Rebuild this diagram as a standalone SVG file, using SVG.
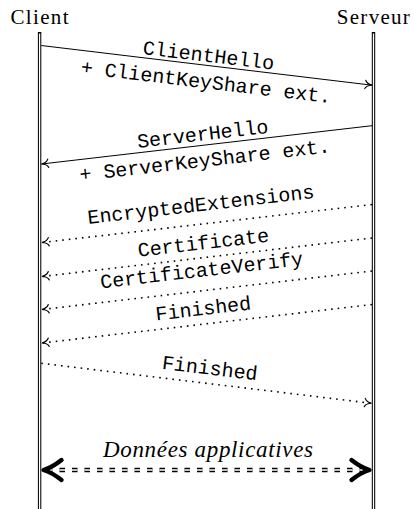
<svg xmlns="http://www.w3.org/2000/svg" width="414" height="509" viewBox="0 0 414 509">
  <style>
    .actor { font-family: "Liberation Serif", "Times New Roman", serif; font-size: 21px; fill: #000; text-anchor: middle; }
    .life-outer { stroke: #000; stroke-width: 3.4; fill: none; }
    .life-inner { stroke: #fff; stroke-width: 1.3; fill: none; }
    .msg { stroke: #000; stroke-width: 1; fill: none; }
    .dot { stroke: #000; stroke-width: 1.6; fill: none; stroke-dasharray: 1.6 5; }
    .lbl { font-family: "Liberation Mono", "Courier New", monospace; font-size: 20px; fill: #000; text-anchor: middle; }
    .data-lbl { font-family: "Liberation Serif", "Times New Roman", serif; font-style: italic; font-size: 23px; fill: #000; text-anchor: middle; }
    .data-outer { stroke: #000; stroke-width: 4.4; fill: none; stroke-dasharray: 5.5 7; }
    .data-inner { stroke: #fff; stroke-width: 1.6; fill: none; stroke-dasharray: 5.5 7; }
    .fat-tip { stroke: #000; stroke-width: 4.4; fill: none; stroke-linecap: round; stroke-linejoin: round; }
  </style>
  <defs>
    <!-- open curved arrow tip shared by all thin messages -->
    <marker id="tip" viewBox="-9 -6 11 12" markerWidth="11" markerHeight="12" refX="0" refY="0" orient="auto" markerUnits="userSpaceOnUse">
      <path d="M -6.8 -4.2 C -5.8 -1.9 -3 -0.4 0 0 C -3 0.4 -5.8 1.9 -6.8 4.2" stroke="#000" stroke-width="1.15" fill="none" stroke-linecap="round"/>
    </marker>
  </defs>

  <rect width="414" height="509" fill="#fff"/>

  <!-- Lifelines -->
  <g id="client">
    <text class="actor" x="39.5" y="24" textLength="58" lengthAdjust="spacing">Client</text>
    <line class="life-outer" x1="39.6" y1="32" x2="39.6" y2="509"/>
    <line class="life-inner" x1="39.6" y1="33.5" x2="39.6" y2="509"/>
  </g>
  <g id="serveur">
    <text class="actor" x="373.3" y="24" textLength="73" lengthAdjust="spacing">Serveur</text>
    <line class="life-outer" x1="373.5" y1="32" x2="373.5" y2="509"/>
    <line class="life-inner" x1="373.5" y1="33.5" x2="373.5" y2="509"/>
  </g>

  <!-- Messages -->
  <g id="connectors">
    <line class="msg" x1="41.3" y1="45.5" x2="372" y2="85.2" marker-end="url(#tip)"/>
    <line class="msg" x1="372" y1="125.7" x2="41.5" y2="164" marker-end="url(#tip)"/>
    <line class="dot" x1="372" y1="204.5" x2="42" y2="242.5" marker-end="url(#tip)"/>
    <line class="dot" x1="372" y1="238" x2="42" y2="276.5" marker-end="url(#tip)"/>
    <line class="dot" x1="372" y1="271" x2="42" y2="309.5" marker-end="url(#tip)"/>
    <line class="dot" x1="372" y1="304.5" x2="42" y2="343" marker-end="url(#tip)"/>
    <line class="dot" x1="41.3" y1="363.3" x2="371.5" y2="403.3" marker-end="url(#tip)"/>

    <!-- application data, both ways -->
    <line class="data-outer" x1="47" y1="470" x2="367" y2="470"/>
    <line class="data-inner" x1="47" y1="470" x2="367" y2="470"/>
    <path class="fat-tip" d="M 61.5 460 Q 52 467.5 43.5 470 Q 52 472.5 61.5 480"/>
    <path class="fat-tip" d="M 351.5 460 Q 361 467.5 369.5 470 Q 361 472.5 351.5 480"/>

    <!-- labels -->
    <g transform="translate(206.5 65.25) rotate(6.8)">
      <text class="lbl" x="1" y="-3.5">ClientHello</text>
      <text class="lbl" x="1.5" y="23">+ ClientKeyShare ext.</text>
    </g>
    <g transform="translate(206.5 144.85) rotate(-6.6)">
      <text class="lbl" x="-2.5" y="-4.8">ServerHello</text>
      <text class="lbl" x="-3.5" y="21.5">+ ServerKeyShare ext.</text>
    </g>
    <g transform="translate(206.5 223.5) rotate(-6.55)">
      <text class="lbl" x="-3.5" y="-13">EncryptedExtensions</text>
    </g>
    <g transform="translate(206.5 257.25) rotate(-6.63)">
      <text class="lbl" x="-1.5" y="-8.3">Certificate</text>
    </g>
    <g transform="translate(206.5 290.25) rotate(-6.63)">
      <text class="lbl" x="-2.5" y="-14">CertificateVerify</text>
    </g>
    <g transform="translate(206.5 323.75) rotate(-6.63)">
      <text class="lbl" x="-1.5" y="-9">Finished</text>
    </g>
    <g transform="translate(206.5 383.3) rotate(6.89)">
      <text class="lbl" x="1.5" y="-9">Finished</text>
    </g>
    <text class="data-lbl" x="208" y="456.7" textLength="210" lengthAdjust="spacing">Données applicatives</text>
  </g>
</svg>
